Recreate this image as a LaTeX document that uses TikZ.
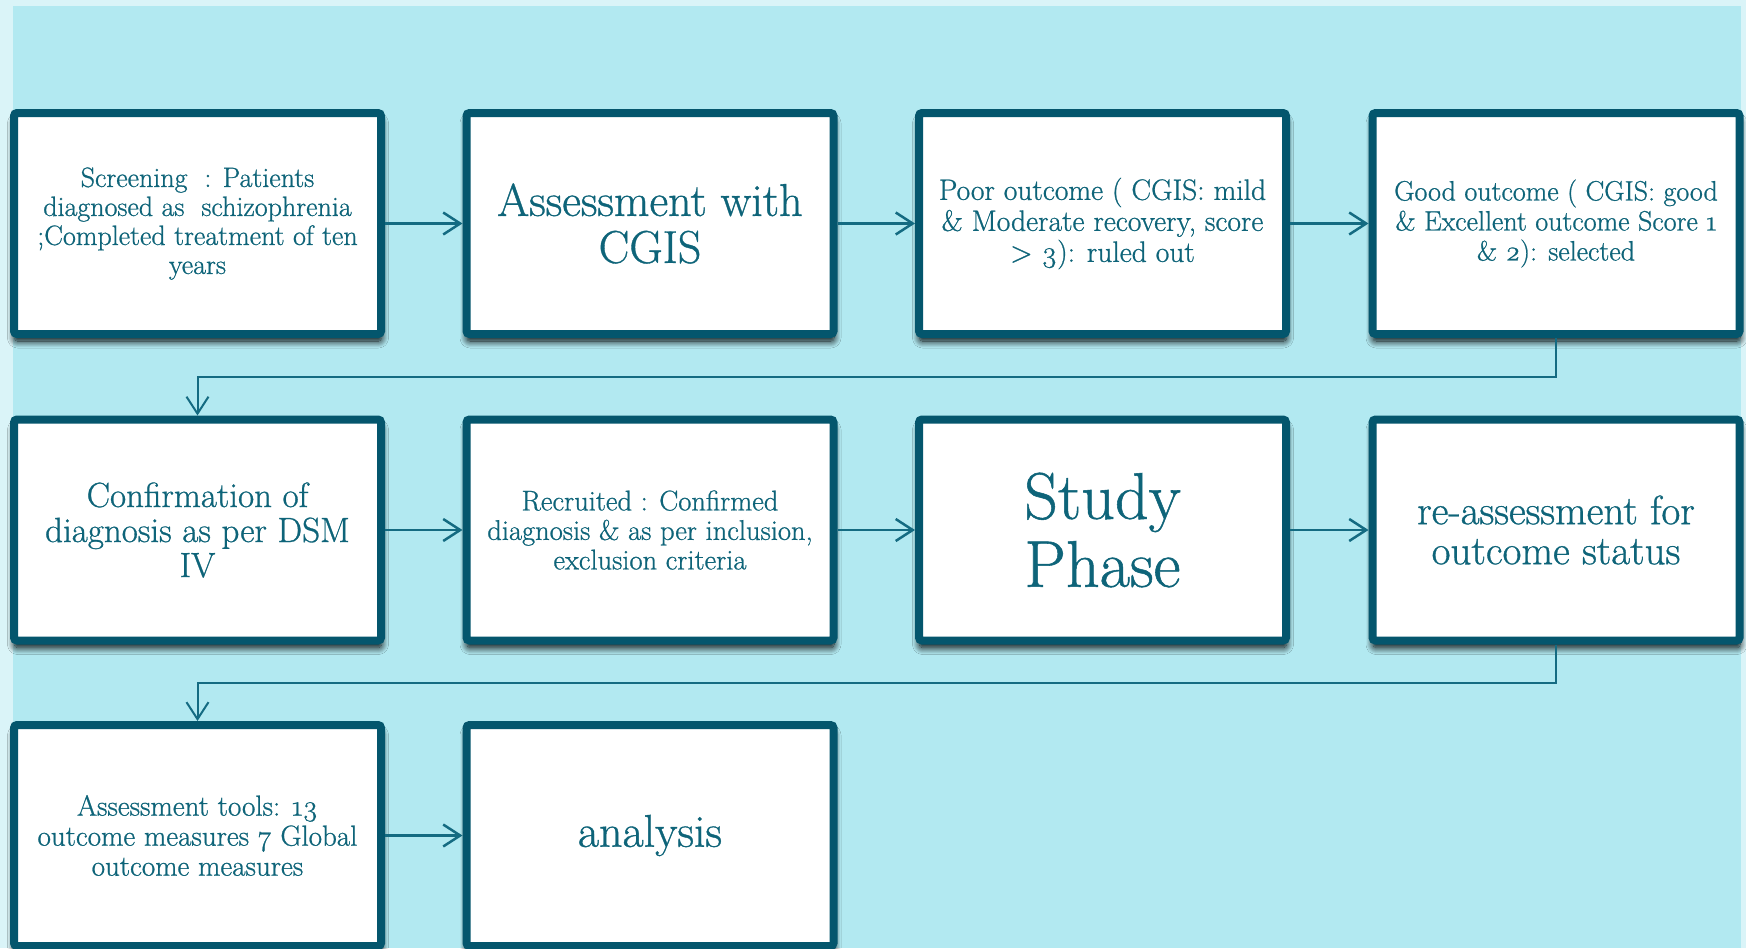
\documentclass[tikz,border=0pt]{standalone}
\usepackage{fontspec}
\setmainfont{Latin Modern Roman}[FakeBold=0.8]
\usetikzlibrary{arrows.meta,shadows.blur}
\definecolor{paleframe}{HTML}{DAF4F8}
\definecolor{panel}{HTML}{B2E9F1}
\definecolor{boxrim}{HTML}{04566D}
\definecolor{ink}{HTML}{0E6479}
\definecolor{wire}{HTML}{146B82}
\tikzset{
  stage/.style={draw=boxrim, line width=8pt, fill=white, rounded corners=3pt,
    minimum width=367pt, minimum height=221pt, inner sep=0pt,
    text=ink, align=center,
    blur shadow={shadow xshift=0.5pt, shadow yshift=-7pt,
      shadow blur radius=7pt, shadow opacity=100, shadow blur steps=14}},
  flow/.style={draw=wire, line width=2.5pt,
    -{Straight Barb[length=17pt,width=22pt]}},
  link/.style={draw=wire, line width=2pt,
    -{Straight Barb[length=17pt,width=22pt]}},
}
\newcommand{\fsz}[2]{\fontsize{#1}{#2}\selectfont}
\begin{document}
\begin{tikzpicture}[x=1pt,y=-1pt]
\useasboundingbox (0,0) rectangle (1746,948);
% backdrop
\fill[paleframe] (0,0) rectangle (1746,948);
\fill[panel] (13,6) rectangle (1741,948);

% first row
\node[stage, font=\fsz{28}{29}] (a1) at (197.5,223.5) {Screening~ : Patients\\diagnosed as~ schizophrenia\\;Completed treatment of ten\\years};
\node[stage, font=\fsz{46}{47}] (a2) at (650,223.5) {Assessment with\\CGIS};
\node[stage, font=\fsz{29.5}{31}] (a3) at (1102.5,223.5) {Poor outcome ( CGIS: mild\\\& Moderate recovery, score\\> \oldstylenums{3}): ruled out};
\node[stage, font=\fsz{28}{30}] (a4) at (1556,223.5) {Good outcome ( CGIS: good\\\& Excellent outcome Score \oldstylenums{1}\\\& \oldstylenums{2}): selected};

% second row
\node[stage, font=\fsz{35}{35}] (b1) at (197.5,530) {Confirmation of\\diagnosis as per DSM\\IV};
\node[stage, font=\fsz{28.5}{29.5}] (b2) at (650,530) {Recruited : Confirmed\\diagnosis \& as per inclusion,\\exclusion criteria};
\node[stage, font=\fsz{66}{68}] (b3) at (1102.5,530) {Study\\Phase};
\node[stage, font=\fsz{41}{40}] (b4) at (1556,530) {re-assessment for\\outcome status};

% third row
\node[stage, font=\fsz{29}{30}] (c1) at (197.5,835.5) {Assessment tools: \oldstylenums{13}\\outcome measures \oldstylenums{7} Global\\outcome measures};
\node[stage, font=\fsz{46}{47}] (c2) at (650,835.5) {analysis};

% connectors
\draw[flow] (a1.east) -- (a2.west);
\draw[flow] (a2.east) -- (a3.west);
\draw[flow] (a3.east) -- (a4.west);
\draw[link] (a4.south) -- ++(0,39) -| (b1.north);
\draw[flow] (b1.east) -- (b2.west);
\draw[flow] (b2.east) -- (b3.west);
\draw[flow] (b3.east) -- (b4.west);
\draw[link] (b4.south) -- ++(0,38) -| (c1.north);
\draw[flow] (c1.east) -- (c2.west);
\end{tikzpicture}
\end{document}
